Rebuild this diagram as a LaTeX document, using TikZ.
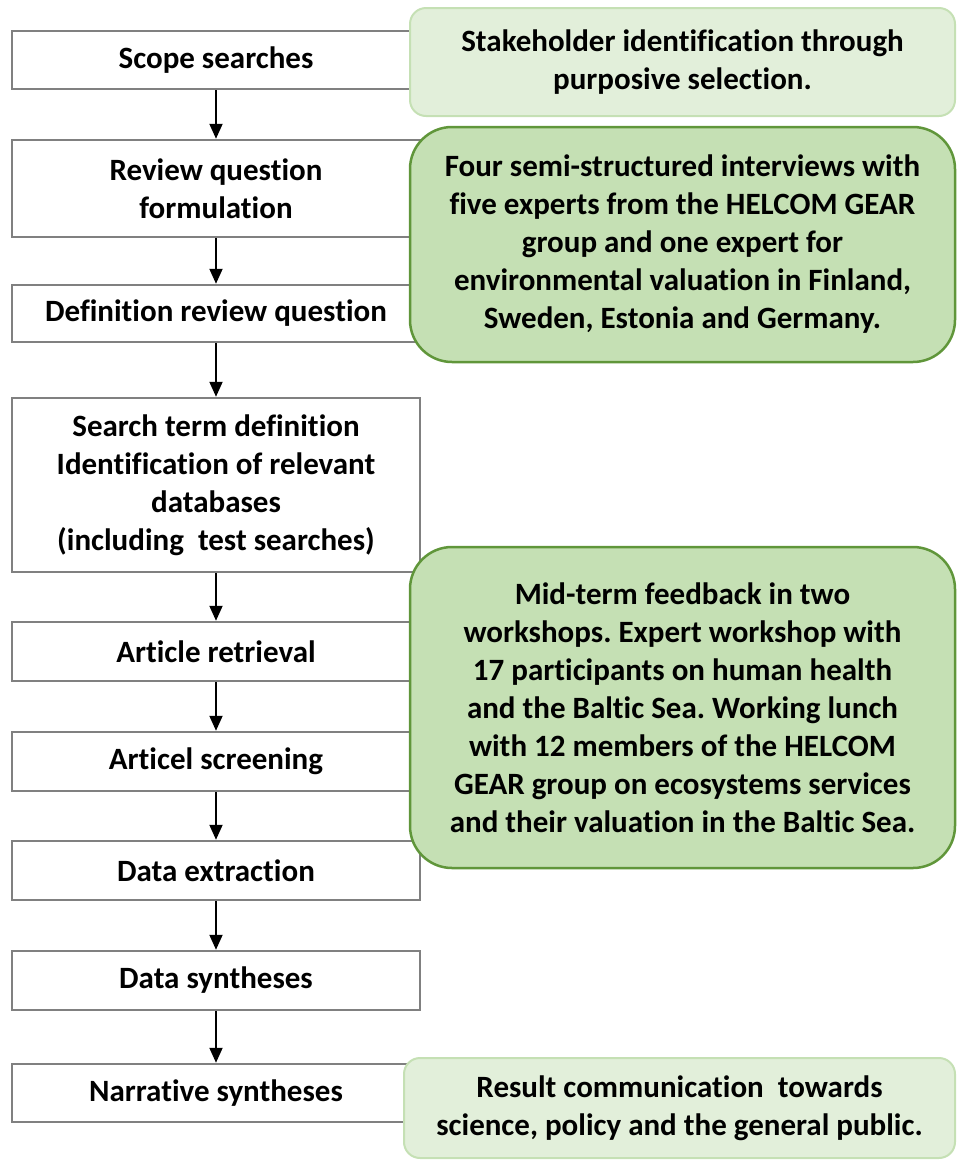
\documentclass[tikz,border=0pt]{standalone}
\usepackage{fontspec}
\setmainfont{Carlito}[Ligatures={NoCommon}]
\usetikzlibrary{arrows.meta}
\frenchspacing
\definecolor{boxgray}{RGB}{128,128,128}
\definecolor{lightfill}{RGB}{226,239,218}
\definecolor{lightdraw}{RGB}{197,224,180}
\definecolor{midfill}{RGB}{197,224,180}
\definecolor{middraw}{RGB}{96,150,58}
\tikzset{
  stepbox/.style={draw=boxgray, line width=2.5pt, fill=white, minimum width=408pt, inner sep=0pt, align=center, font=\fontsize{31}{38}\selectfont\bfseries},
  lightbox/.style={draw=lightdraw, line width=2pt, fill=lightfill, rounded corners=16pt, inner sep=0pt, align=center, font=\fontsize{31}{38}\selectfont\bfseries},
  midbox/.style={draw=middraw, line width=2.5pt, fill=midfill, rounded corners=42pt, inner sep=0pt, align=center, font=\fontsize{31}{38}\selectfont\bfseries},
  arr/.style={draw=black, line width=2pt, -{Triangle[length=15pt,width=13pt]}}
}
\begin{document}
\begin{tikzpicture}[x=1pt,y=-1pt]
\useasboundingbox (0,0) rectangle (957,1160);
\node[stepbox, minimum height=58pt] (s1) at (216,60) {Scope searches};
\node[stepbox, minimum height=97pt] (s2) at (216,188.5) {Review question\\formulation};
\node[stepbox, minimum height=57pt] (s3) at (216,313.5) {Definition review question};
\node[stepbox, minimum height=174pt] (s4) at (216,485) {Search term definition\\Identification of relevant\\databases\\(including\ \ test searches)};
\node[stepbox, minimum height=59pt] (s5) at (216,651.5) {Article retrieval};
\node[stepbox, minimum height=59pt] (s6) at (216,761.5) {Articel screening};
\node[stepbox, minimum height=59pt] (s7) at (216,870.5) {Data extraction};
\node[stepbox, minimum height=59pt] (s8) at (216,980.5) {Data syntheses};
\node[stepbox, minimum height=58pt] (s9) at (216,1093) {Narrative syntheses};
\draw[arr] (s1) -- (s2);
\draw[arr] (s2) -- (s3);
\draw[arr] (s3) -- (s4);
\draw[arr] (s4) -- (s5);
\draw[arr] (s5) -- (s6);
\draw[arr] (s6) -- (s7);
\draw[arr] (s7) -- (s8);
\draw[arr] (s8) -- (s9);
\node[lightbox, minimum width=545pt, minimum height=108pt] (g1) at (682.5,62) {Stakeholder identification through\\purposive selection.};
\node[midbox, minimum width=545pt, minimum height=235pt] (g2) at (682.5,244.5) {Four semi-structured interviews with\\five experts from the HELCOM GEAR\\group and one expert for\\environmental valuation in Finland,\\Sweden, Estonia and Germany.};
\node[midbox, minimum width=545pt, minimum height=321pt] (g3) at (682.5,707.5) {Mid-term feedback in two\\workshops. Expert workshop with\\17 participants on human health\\and the Baltic Sea. Working lunch\\with 12 members of the HELCOM\\GEAR group on ecosystems services\\and their valuation in the Baltic Sea.};
\node[lightbox, minimum width=551pt, minimum height=100pt] (g4) at (679.5,1108) {Result communication\ \ towards\\science, policy and the general public.};
\end{tikzpicture}
\end{document}
